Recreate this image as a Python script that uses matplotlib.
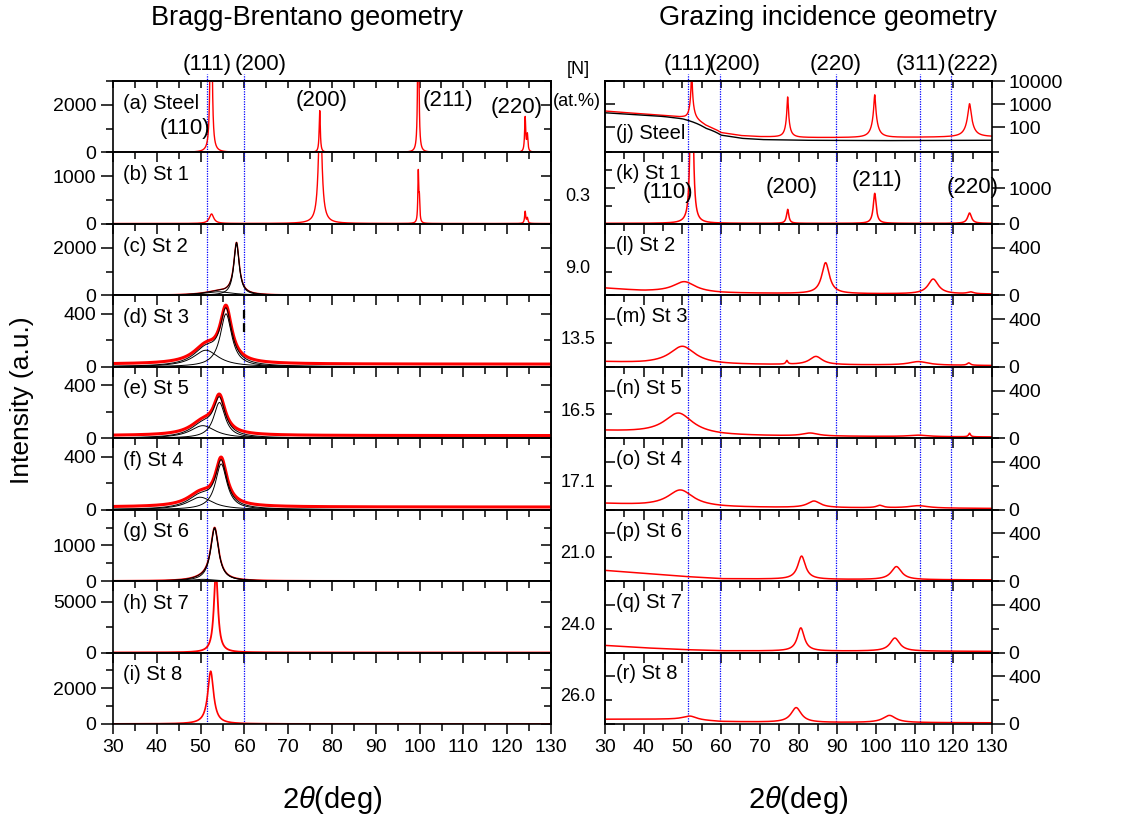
import numpy as np
import matplotlib
matplotlib.use('Agg')
import matplotlib.pyplot as plt
from matplotlib.ticker import MultipleLocator, FixedLocator, FuncFormatter, NullFormatter

plt.rcParams['font.family'] = ['Liberation Sans', 'DejaVu Sans']
plt.rcParams['mathtext.fontset'] = 'custom'
plt.rcParams['mathtext.it'] = 'Liberation Sans:italic'
plt.rcParams['mathtext.rm'] = 'Liberation Sans'
plt.rcParams['axes.linewidth'] = 1.2

### data ###
# Bragg-Brentano panels (a)-(i): peaks as (2theta, height, half width)
bb_labels = ['(a) Steel', '(b) St 1', '(c) St 2', '(d) St 3', '(e) St 5',
             '(f) St 4', '(g) St 6', '(h) St 7', '(i) St 8']
bb_ymax = [3000, 1500, 3000, 540, 540, 540, 2000, 7000, 4000]
bb_ylab = [2000, 1000, 2000, 400, 400, 400, 1000, 5000, 2000]
bb_ystep = [1000, 500, 1000, 200, 200, 200, 500, 2500, 1000]
bb_base = [5, 8, 5, 20, 20, 20, 5, 5, 5]
bb_peaks = [
    [(52.4, 12000, 0.18), (77.2, 1750, 0.15), (99.7, 9000, 0.13), (124.1, 1450, 0.15), (124.6, 700, 0.15)],
    [(52.5, 200, 0.6), (77.3, 2500, 0.45), (99.7, 1050, 0.12), (99.95, 450, 0.12), (124.1, 250, 0.15), (124.6, 110, 0.15)],
    [(58.2, 2150, 0.75), (54.0, 150, 4.0)],
    [(55.8, 400, 1.6), (51.2, 125, 3.5)],
    [(54.3, 270, 1.6), (50.5, 95, 3.5)],
    [(54.7, 345, 1.6), (49.9, 94, 3.5)],
    [(53.2, 1470, 1.1), (50.5, 50, 3.0)],
    [(53.5, 8000, 0.55)],
    [(52.3, 2950, 0.8)],
]
bb_fit = [False, False, True, True, True, True, True, False, False]
bb_lw = [1.0, 1.0, 1.0, 2.2, 2.2, 2.2, 1.2, 1.3, 1.2]

# Grazing incidence panel (j): steel, log scale, two measurements
steel_bg_x = [30, 35, 40, 45, 50, 53, 56, 60, 65, 70, 80, 100, 130]
steel_bg_red = [500, 430, 370, 320, 260, 190, 110, 55, 42, 38, 35, 35, 38]
steel_bg_black = [420, 370, 330, 290, 230, 160, 90, 45, 33, 29, 27, 26, 27]
steel_peaks = [(52.4, 30000, 0.08), (77.2, 2000, 0.12), (99.7, 2500, 0.16), (124.2, 1000, 0.3)]

# Grazing incidence panels (k)-(r)
gi_labels = ['(k) St 1', '(l) St 2', '(m) St 3', '(n) St 5', '(o) St 4',
             '(p) St 6', '(q) St 7', '(r) St 8']
gi_N = ['0.3', '9.0', '13.5', '16.5', '17.1', '21.0', '24.0', '26.0']
gi_ymax = [2000, 600, 600, 600, 600, 600, 600, 600]
gi_ylab = [1000, 400, 400, 400, 400, 400, 400, 400]
gi_ystep = [500, 200, 200, 200, 200, 200, 200, 200]
gi_bg_x = [30, 40, 50, 60, 80, 100, 130]
gi_bg = [
    [15, 15, 15, 15, 15, 15, 15],
    [60, 35, 25, 18, 14, 12, 10],
    [40, 28, 22, 18, 15, 14, 10],
    [60, 45, 30, 22, 16, 14, 10],
    [50, 35, 25, 20, 16, 14, 10],
    [90, 65, 40, 20, 15, 12, 10],
    [60, 40, 25, 15, 12, 12, 10],
    [40, 40, 40, 20, 12, 12, 10],
]
gi_peaks = [
    [(52.4, 8000, 0.3), (77.2, 390, 0.35), (99.7, 840, 0.45), (124.2, 290, 0.6)],
    [(50.5, 90, 3.5), (87.0, 260, 1.2), (114.8, 125, 1.6), (124.5, 15, 1.0)],
    [(50.0, 150, 4.0), (77.0, 30, 0.3), (84.5, 70, 2.0), (111.0, 30, 3.0), (124.0, 20, 0.5)],
    [(49.0, 180, 4.5), (83.0, 25, 2.5), (111.0, 12, 3.0), (124.2, 30, 0.3)],
    [(49.5, 140, 4.0), (84.0, 55, 2.0), (101.0, 20, 1.0), (111.0, 20, 3.0)],
    [(80.8, 195, 1.2), (105.3, 110, 1.6)],
    [(80.6, 195, 1.1), (104.9, 110, 1.5)],
    [(52.0, 30, 2.0), (79.4, 125, 1.6), (103.5, 60, 2.0)],
]

bb_lines = [51.5, 59.9]
gi_lines = [51.5, 59.8, 89.7, 111.5, 119.4]

bb_top_hkl = [('(111)', 51.5), ('(200)', 63.6)]
gi_top_hkl = [('(111)', 51.4), ('(200)', 63.6), ('(220)', 89.7), ('(311)', 111.7), ('(222)', 125.1)]
steel_hkl = [('(110)', 46.4, 0.34), ('(200)', 77.7, 0.73), ('(211)', 106.5, 0.73), ('(220)', 122.2, 0.63)]
st1_hkl = [('(110)', 46.3, 0.44), ('(200)', 78.3, 0.51), ('(211)', 100.3, 0.61), ('(220)', 125.1, 0.51)]

tt = np.linspace(30, 130, 6001)


def lorentz(c, h, w):
    return h / (1 + ((tt - c) / w) ** 2)


W, H = 1128, 816
fig = plt.figure(figsize=(W / 100, H / 100), dpi=100)
ph = (724 - 81) / 9


def panel(i, x0, w):
    ax = fig.add_axes([x0 / W, 1 - (81 + (i + 1) * ph) / H, w / W, ph / H])
    ax.patch.set_visible(False)
    ax.set_xlim(30, 130)
    ax.xaxis.set_major_locator(MultipleLocator(10))
    ax.xaxis.set_minor_locator(MultipleLocator(5))
    ax.tick_params(axis='x', which='major', direction='out', length=7, width=1.1, labelsize=14)
    ax.tick_params(axis='x', which='minor', direction='out', length=5, width=1.1)
    if i < 8:
        ax.tick_params(axis='x', labelbottom=False)
    else:
        ax.tick_params(axis='x', pad=4)
    if i == 0:
        sx = ax.secondary_xaxis('top')
        sx.xaxis.set_major_locator(MultipleLocator(10))
        sx.xaxis.set_minor_locator(MultipleLocator(5))
        sx.tick_params(which='both', direction='in', length=5, width=1.1, labeltop=False)
    return ax


def lin_y(ax, ymax, ylab, ystep, side):
    ax.set_ylim(0, ymax)
    minors = [v for v in np.arange(ystep, ymax + 1, ystep) if v != ylab]
    ax.yaxis.set_major_locator(FixedLocator([0, ylab]))
    ax.yaxis.set_minor_locator(FixedLocator(minors))
    ax.yaxis.set_major_formatter(FuncFormatter(lambda v, p: '%d' % v))
    other = 'right' if side == 'left' else 'left'
    if side == 'right':
        ax.yaxis.tick_right()
    ax.tick_params(axis='y', which='major', direction='out', length=9, width=1.1, labelsize=14, pad=3)
    ax.tick_params(axis='y', which='minor', direction='out', length=5, width=1.1)
    sy = ax.secondary_yaxis(other)
    sy.yaxis.set_major_locator(FixedLocator([0, ylab]))
    sy.yaxis.set_minor_locator(FixedLocator(minors))
    sy.yaxis.set_major_formatter(NullFormatter())
    sy.tick_params(which='major', direction='in', length=7, width=1.1)
    sy.tick_params(which='minor', direction='in', length=5, width=1.1)


def vlines(ax, xs, first):
    for x in xs:
        ax.axvline(x, ymin=0, ymax=1.1 if first else 1, color='blue', ls=(0, (1, 1)),
                   lw=0.9, zorder=1, clip_on=not first)


### Bragg-Brentano column ###
for i in range(9):
    ax = panel(i, 113, 438)
    lin_y(ax, bb_ymax[i], bb_ylab[i], bb_ystep[i], 'left')
    vlines(ax, bb_lines, i == 0)
    comps = [lorentz(*p) for p in bb_peaks[i]]
    total = np.sum(comps, axis=0)
    ax.plot(tt, total + bb_base[i], color='red', lw=bb_lw[i], zorder=2)
    if bb_fit[i]:
        for c in comps:
            ax.plot(tt, c, color='black', lw=0.7, zorder=3)
        ax.plot(tt, total, color='black', lw=0.7, zorder=3)
    ax.text(0.023, 0.69, bb_labels[i], transform=ax.transAxes, fontsize=14.5, va='center')
    if i == 3:
        ax.vlines(59.9, 0.49 * bb_ymax[i], 0.79 * bb_ymax[i], colors='black',
                  linestyles=(0, (4, 2)), lw=1.6, zorder=4)
    if i == 0:
        for s, x in bb_top_hkl:
            ax.text(x, 1.225, s, transform=ax.get_xaxis_transform(), fontsize=16,
                    ha='center', va='center', clip_on=False)
        for s, x, y in steel_hkl:
            ax.text(x, y, s, transform=ax.get_xaxis_transform(), fontsize=16,
                    ha='center', va='center')
    if i == 8:
        ax.set_xlabel(r'2$\mathit{\theta}$(deg)', fontsize=21, labelpad=20)

### Grazing incidence column ###
for i in range(9):
    ax = panel(i, 605, 387)
    vlines(ax, gi_lines, i == 0)
    if i == 0:
        red = np.interp(tt, steel_bg_x, steel_bg_red) + np.sum([lorentz(*p) for p in steel_peaks], axis=0)
        black = np.interp(tt, steel_bg_x, steel_bg_black)
        ax.plot(tt, red, color='red', lw=1.0, zorder=2)
        ax.plot(tt, black, color='black', lw=1.0, zorder=3)
        ax.set_yscale('log')
        ax.set_ylim(8, 10000)
        ax.yaxis.tick_right()
        ax.yaxis.set_major_locator(FixedLocator([100, 1000, 10000]))
        ax.yaxis.set_major_formatter(FuncFormatter(lambda v, p: '%d' % v))
        ax.yaxis.set_minor_formatter(NullFormatter())
        ax.tick_params(axis='y', which='major', direction='out', length=9, width=1.1, labelsize=14, pad=3)
        ax.tick_params(axis='y', which='minor', direction='in', length=5, width=1.0)
        sy = ax.secondary_yaxis('left')
        sy.yaxis.set_major_locator(FixedLocator([100, 1000, 10000]))
        sy.yaxis.set_major_formatter(NullFormatter())
        sy.yaxis.set_minor_formatter(NullFormatter())
        sy.tick_params(which='major', direction='in', length=7, width=1.1)
        sy.tick_params(which='minor', direction='in', length=5, width=1.0)
        ax.text(0.028, 0.27, '(j) Steel', transform=ax.transAxes, fontsize=14.5, va='center')
        for s, x in gi_top_hkl:
            ax.text(x, 1.225, s, transform=ax.get_xaxis_transform(), fontsize=16,
                    ha='center', va='center', clip_on=False)
    else:
        k = i - 1
        bg = np.interp(tt, gi_bg_x, gi_bg[k])
        total = bg + np.sum([lorentz(*p) for p in gi_peaks[k]], axis=0)
        ax.plot(tt, total, color='red', lw=1.1, zorder=2)
        lin_y(ax, gi_ymax[k], gi_ylab[k], gi_ystep[k], 'right')
        ax.text(0.028, 0.70, gi_labels[k], transform=ax.transAxes, fontsize=14.5, va='center')
        fig.text(578 / W, 1 - (81 + (i + 0.62) * ph) / H, gi_N[k], fontsize=13,
                 ha='center', va='center')
        if k == 0:
            for s, x, y in st1_hkl:
                ax.text(x, y, s, transform=ax.get_xaxis_transform(), fontsize=16,
                        ha='center', va='center')
    if i == 8:
        ax.set_xlabel(r'2$\mathit{\theta}$(deg)', fontsize=21, labelpad=20)

fig.text(578 / W, 1 - 70 / H, '[N]', fontsize=13, ha='center', va='center')
fig.text(577 / W, 1 - 101 / H, '(at.%)', fontsize=13, ha='center', va='center')

fig.text(307 / W, 1 - 18 / H, 'Bragg-Brentano geometry', fontsize=19.5, ha='center', va='center')
fig.text(828 / W, 1 - 18 / H, 'Grazing incidence geometry', fontsize=19.5, ha='center', va='center')
fig.text(22 / W, 1 - 400 / H, 'Intensity (a.u.)', fontsize=19, rotation=90, ha='center', va='center')

plt.savefig('out.png', dpi=100)
